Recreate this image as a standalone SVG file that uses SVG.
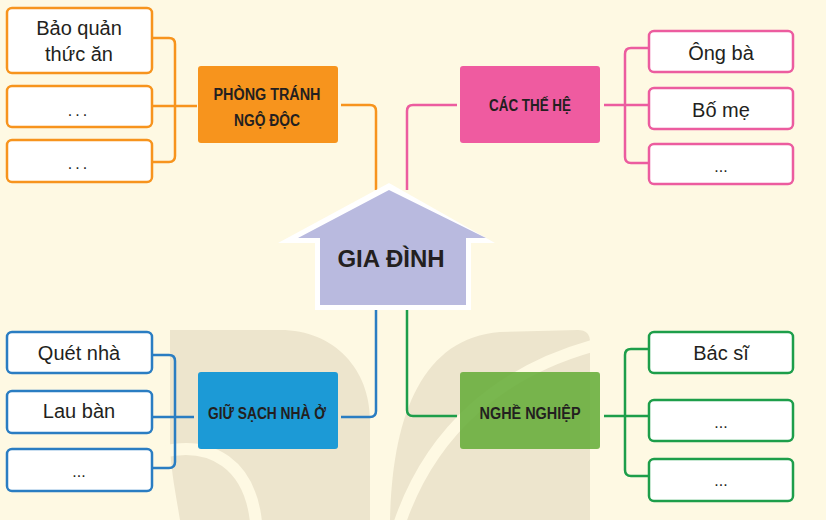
<svg xmlns="http://www.w3.org/2000/svg" width="826" height="520" viewBox="0 0 826 520">
<defs>
<style>
.bg{fill:#fef9e3}
.wm{fill:#ede5cd}
.band{fill:none;stroke:#fef9e3;stroke-width:12}
.leaf{fill:#ffffff;stroke-width:2.5}
.lt{font-family:"Liberation Sans",Arial,sans-serif;font-size:20px;fill:#231f20;text-anchor:middle}
.dots{font-family:"Liberation Sans",Arial,sans-serif;font-size:16px;fill:#231f20;text-anchor:middle}
.cat{font-family:"Liberation Sans",Arial,sans-serif;font-size:16px;font-weight:bold;fill:#231f20;text-anchor:middle}
.con{fill:none;stroke-width:2.5}
.o{stroke:#f7941d}.p{stroke:#ec5c9f}.b{stroke:#2a7dc2}.g{stroke:#1d9e4a}
</style>
</defs>
<rect class="bg" x="0" y="0" width="826" height="520"/>
<g id="watermark">
<path class="wm" d="M170,330 L280,330 C335,330 370,370 370,420 L370,520 L180,520 C175,490 170,465 170,440 Z"/>
<path class="band" d="M162,452 C212,440 250,465 256,522"/>
<path class="wm" d="M390,520 C392,420 420,338 500,332 L578,330 Q590,330 590,342 L590,520 Z"/>
<path class="band" d="M400,522 C432,430 500,372 592,346"/>
</g>
<g id="connectors">
<path class="con o" d="M152,38 H169 Q175,38 175,44 V156 Q175,162 169,162 H152 M152,106 H197"/>
<path class="con o" d="M341,105 H370 Q376,105 376,111 V190"/>
<path class="con p" d="M457,105 H413 Q407,105 407,111 V190"/>
<path class="con p" d="M604,105 H649 M649,48 H631 Q625,48 625,54 V157 Q625,163 631,163 H649"/>
<path class="con b" d="M341,417 H370 Q376,417 376,411 V306"/>
<path class="con b" d="M152,355 H169 Q175,355 175,361 V462 Q175,468 169,468 H152 M152,417 H194"/>
<path class="con g" d="M457,416 H413 Q407,416 407,410 V306"/>
<path class="con g" d="M604,416 H649 M649,349 H631 Q625,349 625,355 V470 Q625,476 631,476 H649"/>
</g>
<g id="center">
<path d="M389,183 L495,243 L471,243 L471,310 L315,310 L315,243 L278,243 Z" fill="#ffffff"/>
<path d="M389,190 L486,238 L466,238 L466,305 L320,305 L320,238 L298,238 Z" fill="#b9badf"/>
<text x="391" y="267" font-family="'Liberation Sans',Arial,sans-serif" font-size="24" font-weight="bold" fill="#231f20" text-anchor="middle">GIA ĐÌNH</text>
</g>
<g id="phong-tranh">
<rect x="198" y="66" width="140" height="77" rx="3" fill="#f7941d"/>
<text class="cat" x="267" y="100" textLength="107" lengthAdjust="spacingAndGlyphs">PHÒNG TRÁNH</text>
<text class="cat" x="267" y="126" textLength="66" lengthAdjust="spacingAndGlyphs">NGỘ ĐỘC</text>
</g>
<g id="cac-the-he">
<rect x="460" y="66" width="140" height="77" rx="3" fill="#ef5ba0"/>
<text class="cat" x="530" y="111" textLength="82" lengthAdjust="spacingAndGlyphs">CÁC THẾ HỆ</text>
</g>
<g id="giu-sach">
<rect x="198" y="372" width="140" height="77" rx="3" fill="#1c9ad6"/>
<text class="cat" x="267" y="419" textLength="118" lengthAdjust="spacingAndGlyphs">GIỮ SẠCH NHÀ Ở</text>
</g>
<g id="nghe-nghiep">
<rect x="460" y="372" width="140" height="77" rx="3" fill="#66ad3a" fill-opacity="0.88"/>
<text class="cat" x="530" y="419" textLength="101" lengthAdjust="spacingAndGlyphs">NGHỀ NGHIỆP</text>
</g>
<g id="o1"><rect class="leaf o" x="7" y="8" width="145" height="65" rx="5"/><text class="lt" x="79" y="35">Bảo quản</text><text class="lt" x="79" y="61">thức ăn</text></g>
<g id="o2"><rect class="leaf o" x="7" y="86" width="145" height="41" rx="5"/><text class="dots" x="79" y="116" letter-spacing="3">...</text></g>
<g id="o3"><rect class="leaf o" x="7" y="140" width="145" height="42" rx="5"/><text class="dots" x="79" y="169" letter-spacing="3">...</text></g>
<g id="p1"><rect class="leaf p" x="649" y="31" width="144" height="41" rx="5"/><text class="lt" x="721" y="60">Ông bà</text></g>
<g id="p2"><rect class="leaf p" x="649" y="88" width="144" height="41" rx="5"/><text class="lt" x="721" y="117">Bố mẹ</text></g>
<g id="p3"><rect class="leaf p" x="649" y="144" width="144" height="40" rx="5"/><text class="dots" x="721" y="172">...</text></g>
<g id="b1"><rect class="leaf b" x="7" y="332" width="145" height="41" rx="5"/><text class="lt" x="79" y="360">Quét nhà</text></g>
<g id="b2"><rect class="leaf b" x="7" y="391" width="145" height="42" rx="5"/><text class="lt" x="79" y="418">Lau bàn</text></g>
<g id="b3"><rect class="leaf b" x="7" y="449" width="145" height="42" rx="5"/><text class="dots" x="79" y="477">...</text></g>
<g id="g1"><rect class="leaf g" x="649" y="332" width="144" height="41" rx="5"/><text class="lt" x="721" y="360">Bác sĩ</text></g>
<g id="g2"><rect class="leaf g" x="649" y="400" width="144" height="41" rx="5"/><text class="dots" x="721" y="428">...</text></g>
<g id="g3"><rect class="leaf g" x="649" y="459" width="144" height="42" rx="5"/><text class="dots" x="721" y="486">...</text></g>
</svg>
